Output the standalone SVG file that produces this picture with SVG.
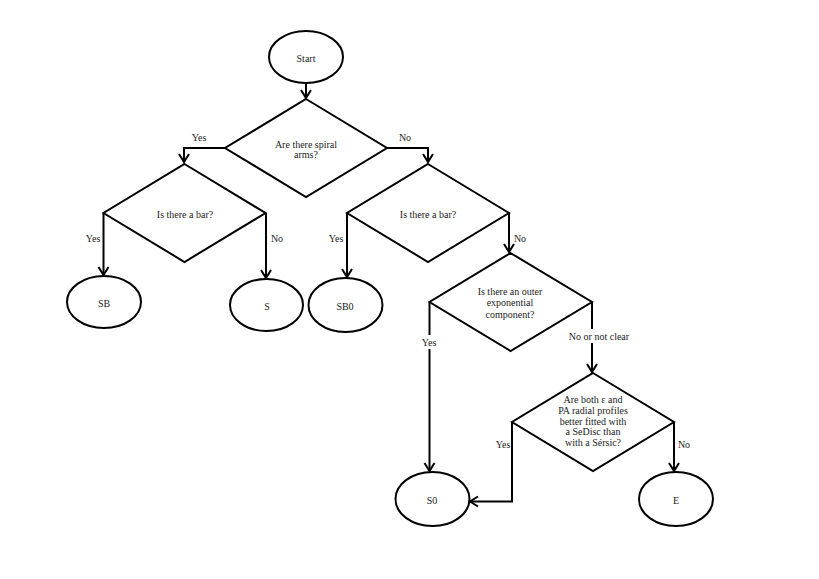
<svg xmlns="http://www.w3.org/2000/svg" width="819" height="579" viewBox="0 0 819 579">
<style>
.shape{fill:#fff;stroke:#000;stroke-width:2}
.conn{fill:none;stroke:#000;stroke-width:2}
.bg{fill:#fff;stroke:none}
text{font-family:"Liberation Serif","Times New Roman","DejaVu Serif",serif;font-size:10px;fill:#222;text-anchor:middle;dominant-baseline:central}
</style>
<defs>
<marker id="arr" markerUnits="userSpaceOnUse" markerWidth="12" markerHeight="14" viewBox="-10 -7 12 14" refX="0" refY="0" orient="auto">
<path d="M-8,-5 L0,0 L-8,5" fill="none" stroke="#000" stroke-width="2"/>
</marker>
</defs>
<rect width="819" height="579" fill="#fff"/>
<g id="connectors">
<path class="conn" d="M306,83 V98" marker-end="url(#arr)"/>
<path class="conn" d="M225,148 H184 V162" marker-end="url(#arr)"/>
<path class="conn" d="M387,148 H428 V162" marker-end="url(#arr)"/>
<path class="conn" d="M103.5,213 V275" marker-end="url(#arr)"/>
<path class="conn" d="M266,213 V278" marker-end="url(#arr)"/>
<path class="conn" d="M347,213 V277" marker-end="url(#arr)"/>
<path class="conn" d="M509,213 V252" marker-end="url(#arr)"/>
<path class="conn" d="M429.5,302 V471" marker-end="url(#arr)"/>
<path class="conn" d="M592,302 V372" marker-end="url(#arr)"/>
<path class="conn" d="M512,422 V501.5 H470" marker-end="url(#arr)"/>
<path class="conn" d="M674,422 V471" marker-end="url(#arr)"/>
<rect class="bg" x="420" y="335" width="19" height="14"/>
<rect class="bg" x="568" y="329" width="62" height="14"/>
<text x="199" y="137">Yes</text>
<text x="405" y="137">No</text>
<text x="93" y="238">Yes</text>
<text x="277" y="238">No</text>
<text x="336" y="238">Yes</text>
<text x="520" y="238">No</text>
<text x="429" y="342">Yes</text>
<text x="599" y="336">No or not clear</text>
<text x="503" y="444">Yes</text>
<text x="684" y="444">No</text>
</g>
<g id="start">
<ellipse class="shape" cx="306" cy="57" rx="37" ry="26"/>
<text x="306" y="58">Start</text>
</g>
<g id="q-spiral">
<polygon class="shape" points="306,99 387,148 306,197 225,148"/>
<text x="306" y="144">Are there spiral</text>
<text x="306" y="154.5">arms?</text>
</g>
<g id="q-bar-left">
<polygon class="shape" points="184.5,164 265.5,213 184.5,262 103.5,213"/>
<text x="185" y="214">Is there a bar?</text>
</g>
<g id="q-bar-right">
<polygon class="shape" points="428,164 509,213 428,262 347,213"/>
<text x="428" y="214">Is there a bar?</text>
</g>
<g id="q-outer">
<polygon class="shape" points="510.5,253 592,302 510.5,351 429.5,302"/>
<text x="510" y="291">Is there an outer</text>
<text x="510" y="302.5">exponential</text>
<text x="510" y="314.5">component?</text>
</g>
<g id="q-sedisc">
<polygon class="shape" points="593,373 674,422 593,471 512,422"/>
<text x="593" y="399.5">Are both ε and</text>
<text x="593" y="410.3">PA radial profiles</text>
<text x="593" y="421">better fitted with</text>
<text x="593" y="431.7">a SeDisc than</text>
<text x="593" y="442.4">with a Sérsic?</text>
</g>
<g id="SB">
<ellipse class="shape" cx="104" cy="302" rx="37" ry="26"/>
<text x="104" y="303">SB</text>
</g>
<g id="S">
<ellipse class="shape" cx="266.5" cy="305" rx="36.5" ry="26"/>
<text x="267" y="306">S</text>
</g>
<g id="SB0">
<ellipse class="shape" cx="345.5" cy="305" rx="37" ry="27"/>
<text x="345" y="306">SB0</text>
</g>
<g id="S0">
<ellipse class="shape" cx="432.5" cy="499" rx="37" ry="27"/>
<text x="432" y="500">S0</text>
</g>
<g id="E">
<ellipse class="shape" cx="676" cy="499" rx="37" ry="27"/>
<text x="676" y="500">E</text>
</g>
</svg>
